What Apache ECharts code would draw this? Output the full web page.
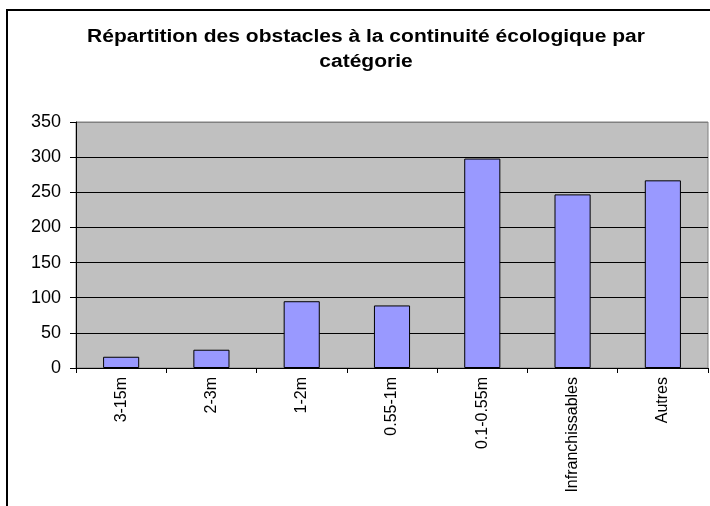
<!DOCTYPE html>
<html>
<head>
<meta charset="utf-8">
<script src="https://cdn.jsdelivr.net/npm/echarts@6/dist/echarts.min.js"></script>
<style>
  html, body { margin: 0; padding: 0; background: #fff; }
  #chart { width: 710px; height: 506px; }
</style>
</head>
<body>
<div id="chart"></div>
<script>
// Obstacle categories and their counts
const categories = ['3-15m', '2-3m', '1-2m', '0.55-1m', '0.1-0.55m', 'Infranchissables', 'Autres'];
const counts = [16, 26, 95, 89, 298, 247, 267];
const yTicks = [0, 50, 100, 150, 200, 250, 300, 350];

const FONT = '"Liberation Sans", Arial, sans-serif';

// Grid lines are black; the topmost one blends into the grey plot border
const gridColors = yTicks.map((v, i) => (i === yTicks.length - 1 ? '#808080' : '#000'));

const chart = echarts.init(document.getElementById('chart'), null, { renderer: 'canvas' });

chart.setOption({
  backgroundColor: '#ffffff',
  animation: false,
  graphic: [
    {
      type: 'rect',
      silent: true,
      shape: { x: 7, y: 10, width: 760, height: 560 },
      style: { fill: 'none', stroke: '#000', lineWidth: 2 }
    },
    {
      type: 'text',
      silent: true,
      x: 366,
      y: 25,
      scaleX: 1.2,
      style: {
        text: 'Répartition des obstacles à la continuité écologique par\ncatégorie',
        font: 'bold 17.5px ' + FONT,
        fill: '#000',
        align: 'center',
        lineHeight: 25
      }
    }
  ],
  grid: {
    left: 76, right: 2, top: 122, bottom: 138,
    show: true,
    backgroundColor: '#C0C0C0',
    borderColor: '#808080',
    borderWidth: 1
  },
  xAxis: {
    type: 'category',
    data: categories,
    boundaryGap: true,
    axisLine: { show: true, lineStyle: { color: '#000', width: 1 } },
    axisTick: { show: true, alignWithLabel: false, interval: 0, length: 5, lineStyle: { color: '#000' } },
    axisLabel: {
      interval: 0,
      rotate: 90,
      margin: 9,
      color: '#000',
      fontFamily: FONT,
      fontSize: 16
    },
    splitLine: { show: false }
  },
  yAxis: {
    type: 'value',
    min: yTicks[0],
    max: yTicks[yTicks.length - 1],
    interval: yTicks[1] - yTicks[0],
    axisLine: { show: true, lineStyle: { color: '#000', width: 1 } },
    axisTick: { show: true, length: 6, lineStyle: { color: '#000' } },
    axisLabel: {
      margin: 15,
      color: '#000',
      fontFamily: FONT,
      fontSize: 18
    },
    splitLine: { show: true, lineStyle: { color: gridColors, width: 1 } }
  },
  series: [{
    type: 'bar',
    data: counts,
    barWidth: '40%',
    itemStyle: { color: '#9999FF', borderColor: '#000', borderWidth: 1 }
  }]
});
</script>
</body>
</html>
